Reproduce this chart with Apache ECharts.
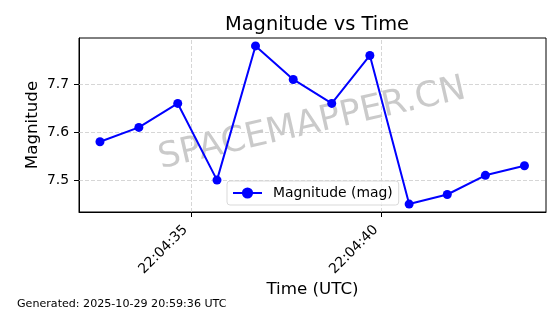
<!DOCTYPE html>
<html><head><meta charset="utf-8">
<script src="https://cdn.jsdelivr.net/npm/echarts@6/dist/echarts.min.js"></script>
<style>html,body{margin:0;padding:0;background:#fff}#c{width:560px;height:314px}</style>
</head><body><div id="c"></div>
<script>
// seconds after 22:04:00 UTC
const timeSeconds = [32.61, 33.63, 34.65, 35.68, 36.69, 37.68, 38.69, 39.69, 40.72, 41.72, 42.72, 43.745];
const magnitudes = [7.58, 7.61, 7.66, 7.50, 7.78, 7.71, 7.66, 7.76, 7.45, 7.47, 7.51, 7.53];
const xTickValues = [35, 40];
const xTickLabels = ['22:04:35', '22:04:40'];
const yTickValues = [7.5, 7.6, 7.7];
const yTickLabels = ['7.5', '7.6', '7.7'];

const FONT = 'DejaVu Sans';
const chart = echarts.init(document.getElementById('c'), null, {renderer: 'canvas'});
const dashed = {color: '#cccccc', type: [4, 2], width: 0.8};
chart.setOption({
  animation: false,
  textStyle: {fontFamily: FONT},
  title: {text: 'Magnitude vs Time', left: 312, top: 10, textAlign: 'center',
    textStyle: {fontFamily: FONT, fontSize: 19.4, fontWeight: 'normal', color: '#000'}},
  grid: {left: 79, right: 14, top: 38, bottom: 102, show: true, borderColor: '#000', borderWidth: 1, containLabel: false},
  xAxis: {
    type: 'value', min: 32.06, max: 44.31,
    name: 'Time (UTC)', nameLocation: 'middle', nameGap: 69, nameMoveOverlap: false,
    nameTextStyle: {fontFamily: FONT, fontSize: 16.7, color: '#000'},
    axisLine: {show: true, lineStyle: {color: '#000'}},
    axisTick: {show: true, length: 5, lineStyle: {color: '#000'}, customValues: xTickValues},
    axisLabel: {customValues: xTickValues, rotate: 45, fontSize: 13.9, color: '#000', margin: 10,
      padding: [0, 8, 0, 0],
      formatter: v => xTickLabels[xTickValues.indexOf(Math.round(v))] || ''},
    splitLine: {show: false}
  },
  yAxis: {
    type: 'value', min: 7.4335, max: 7.7965,
    name: 'Magnitude', nameLocation: 'middle', nameGap: 38, nameMoveOverlap: false,
    nameTextStyle: {fontFamily: FONT, fontSize: 16.7, color: '#000'},
    axisLine: {show: true, lineStyle: {color: '#000'}},
    axisTick: {show: true, length: 5, lineStyle: {color: '#000'}, customValues: yTickValues},
    axisLabel: {customValues: yTickValues, fontSize: 13.9, color: '#000', margin: 10,
      formatter: v => yTickLabels[yTickValues.findIndex(t => Math.abs(t - v) < 1e-6)] || ''},
    splitLine: {show: false}
  },
  legend: {
    data: ['Magnitude (mag)'], left: 227, top: 181, orient: 'horizontal',
    itemWidth: 29, itemHeight: 14, itemGap: 8,
    padding: [5, 6, 5, 5], borderColor: '#d9d9d9', borderWidth: 1, borderRadius: 3,
    backgroundColor: 'rgba(255,255,255,0.8)',
    textStyle: {fontFamily: FONT, fontSize: 13.9, color: '#000', padding: [0, 0, 0, 6]}
  },
  graphic: [
    {type: 'text', left: 17, top: 299, style: {text: 'Generated: 2025-10-29 20:59:36 UTC', font: '11.1px "DejaVu Sans"', fill: '#000'}},
    {type: 'text', x: 312, y: 124, rotation: 13 * Math.PI / 180, z: 0,
      style: {text: 'SPACEMAPPER.CN', font: '35px "DejaVu Sans"', fill: 'rgba(128,128,128,0.42)', align: 'center', verticalAlign: 'middle'}}
  ],
  series: [
    {
      name: 'Magnitude (mag)', type: 'line',
      data: timeSeconds.map((t, i) => [t, magnitudes[i]]),
      symbol: 'circle', symbolSize: 9, showAllSymbol: true,
      lineStyle: {color: '#0000ff', width: 2},
      itemStyle: {color: '#0000ff'},
      z: 5,
      markLine: {
        silent: true, symbol: 'none', label: {show: false}, lineStyle: dashed, z: 1,
        data: xTickValues.map(v => ({xAxis: v})).concat(yTickValues.map(v => ({yAxis: v})))
      }
    }
  ]
});
</script></body></html>
